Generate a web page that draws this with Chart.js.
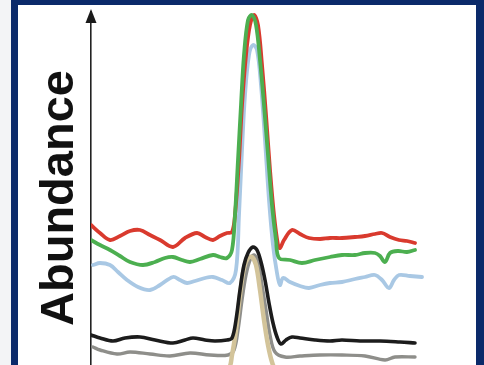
<!DOCTYPE html>
<html>
<head>
<meta charset="utf-8">
<script src="https://cdn.jsdelivr.net/npm/chart.js@4.4.1/dist/chart.umd.min.js"></script>
<style>
  html, body { margin: 0; padding: 0; width: 484px; height: 365px; overflow: hidden; background: #f3f4f6; }
  #frameL { position: absolute; left: 11px; top: 0; width: 7px; height: 365px; background: #0b2a6a; }
  #frameT { position: absolute; left: 11px; top: 0; width: 473px; height: 5px; background: #0b2a6a; }
  #frameR { position: absolute; left: 476px; top: 0; width: 8px; height: 365px; background: #0b2a6a; }
  #panel { position: absolute; left: 18px; top: 5px; width: 458px; height: 360px; background: #ffffff; }
  #wrap { position: absolute; left: 0; top: 0; width: 484px; height: 365px; }
</style>
</head>
<body>
<div id="frameL"></div><div id="frameT"></div><div id="frameR"></div><div id="panel"></div>
<div id="wrap"><canvas id="c" width="484" height="365"></canvas></div>
<script>
// Retention-time positions (x) and abundance values (y)
const yAxisTitle = 'Abundance';
const redX   = [0,9,19,29,39,49,59,69,82,94,106,114,122,129,136,141,144,148,151,155,159,163,167,171,175,179,183,187,189,193,201,209,218,229,239,251,264,274,284,291,299,308,316,324];
const redY   = [140,132,125,129,134,135,130,125,118,127,132,128,125,129,132,133,150,205,260,310,340,350,340,300,250,195,150,120,117,125,135,131,127,126,127,127,128,129,131,132,128,125,124,122];
const greenX = [0,9,19,29,39,52,64,74,82,91,99,109,122,129,136,141,144,147,150,153,157,161,165,169,173,177,181,185,188,199,211,224,239,251,264,274,284,289,294,299,307,316,324];
const greenY = [125,120,115,109,103,100,103,107,108,105,103,106,110,108,107,115,150,205,260,310,345,350,340,305,260,210,160,125,107,105,102,105,108,110,110,112,112,109,103,112,114,113,115];
const blueX  = [2,9,19,27,36,47,59,69,82,89,96,104,114,122,131,139,145,148,151,154,158,162,166,170,174,178,182,186,189,192,199,209,218,229,239,251,264,274,284,291,298,303,308,319,331];
const blueY  = [100,102,100,93,85,78,75,80,88,85,82,84,87,88,85,82,95,150,215,270,310,320,315,280,225,165,120,92,80,87,83,79,77,80,82,83,86,88,90,85,77,85,90,89,88];
const blackX = [0,9,22,34,49,64,82,94,102,114,124,136,141,145,149,153,157,162,166,170,174,178,182,186,190,195,201,209,224,239,251,269,289,309,324];
const blackY = [30,27,24,27,28,25,22,25,27,25,24,25,27,45,75,100,112,118,115,103,85,62,42,28,21,25,28,27,25,24,25,24,24,23,22];
const grayX  = [2,9,26,39,59,79,99,119,137,143,147,151,155,159,163,167,171,175,179,184,194,209,229,251,274,294,304,324];
const grayY  = [18,15,11,13,11,9,12,10,10,15,35,65,90,105,110,103,80,55,30,13,8,9,10,10,9,5,8,8];
const tanX   = [0,40,80,120,137,141,145,149,153,157,161,165,169,173,177,181,185,200,240,280,324];
const tanY   = [-4,-4,-4,-4,-4,10,35,70,97,107,108,100,75,45,20,3,-4,-4,-4,-4,-4];

function pts(xs, ys) { return xs.map((x, i) => ({ x: x, y: ys[i] })); }

const decoPlugin = {
  id: 'deco',
  afterDatasetsDraw(chart) {
    const ctx = chart.ctx, a = chart.chartArea;
    ctx.save();
    // arrow head on the y axis
    ctx.fillStyle = '#1a1a1a';
    ctx.beginPath();
    ctx.moveTo(a.left, a.top - 3);
    ctx.lineTo(a.left - 5.5, a.top + 11);
    ctx.lineTo(a.left + 5.5, a.top + 11);
    ctx.closePath();
    ctx.fill();
    // y axis title
    ctx.translate(a.left - 18, 198);
    ctx.rotate(-Math.PI / 2);
    ctx.font = 'bold 47px "Liberation Sans", Arial, sans-serif';
    ctx.fillStyle = '#111111';
    ctx.textAlign = 'center';
    ctx.textBaseline = 'alphabetic';
    ctx.fillText(yAxisTitle, 0, 0);
    ctx.restore();
  }
};

const common = { fill: false, pointRadius: 0, tension: 0.35, borderJoinStyle: 'round', borderCapStyle: 'round' };

new Chart(document.getElementById('c'), {
  type: 'line',
  data: {
    datasets: [
      Object.assign({ label: 'black', data: pts(blackX, blackY), borderColor: '#1c1c1c', borderWidth: 3.6 }, common),
      Object.assign({ label: 'tan', data: pts(tanX, tanY), borderColor: '#d3c49a', borderWidth: 4.5 }, common),
      Object.assign({ label: 'gray', data: pts(grayX, grayY), borderColor: '#8e8e8a', borderWidth: 3.4 }, common),
      Object.assign({ label: 'green', data: pts(greenX, greenY), borderColor: '#4caf50', borderWidth: 3.8 }, common),
      Object.assign({ label: 'red', data: pts(redX, redY), borderColor: '#d93a2e', borderWidth: 3.8 }, common),
      Object.assign({ label: 'blue', data: pts(blueX, blueY), borderColor: '#a9c8e4', borderWidth: 3.8 }, common)
    ]
  },
  options: {
    responsive: false,
    animation: false,
    devicePixelRatio: 1,
    layout: { padding: { left: 91, top: 12, right: 13, bottom: 0 } },
    plugins: { legend: { display: false }, tooltip: { enabled: false } },
    scales: {
      x: { type: 'linear', min: 0, max: 380, display: false },
      y: {
        min: 0, max: 353,
        ticks: { display: false },
        grid: { display: false, drawTicks: false },
        border: { display: true, color: '#222222', width: 1.6 },
        title: { display: false, text: yAxisTitle }
      }
    }
  },
  plugins: [decoPlugin]
});
</script>
</body>
</html>
